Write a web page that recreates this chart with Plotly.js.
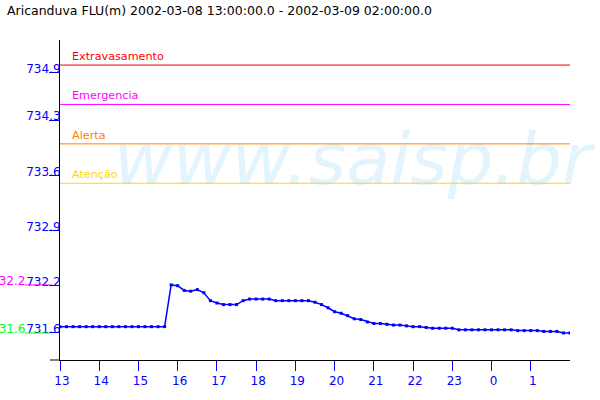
<!DOCTYPE html>
<html>
<head>
<meta charset="utf-8">
<script src="https://cdn.plot.ly/plotly-3.0.1.min.js"></script>
<style>html,body{margin:0;padding:0;background:#fff;}#chart{width:600px;height:400px;}</style>
</head>
<body>
<div id="chart"></div>
<script>
// ---- data ----
const titleText = 'Aricanduva FLU(m) 2002-03-08 13:00:00.0 - 2002-03-09 02:00:00.0';
const startTime = '2002-03-08 13:00';
const endTime = '2002-03-09 02:00';
// level readings every 10 minutes from 13:00 to 02:00
const levels = [
  731.68,731.68,731.68,731.68,731.68,731.68,731.68,731.68,731.68,731.68,
  731.68,731.68,731.68,731.68,731.68,731.68,731.68,732.21,732.20,732.14,
  732.13,732.15,732.11,732.01,731.98,731.96,731.96,731.96,732.01,732.03,
  732.03,732.03,732.03,732.01,732.01,732.01,732.01,732.01,732.01,731.99,
  731.96,731.92,731.87,731.85,731.82,731.78,731.77,731.74,731.72,731.72,
  731.71,731.70,731.70,731.69,731.68,731.68,731.67,731.66,731.66,731.66,
  731.66,731.64,731.64,731.64,731.64,731.64,731.64,731.64,731.64,731.64,
  731.63,731.63,731.63,731.63,731.62,731.62,731.62,731.60,731.60
];
const thresholdNames = ['Extravasamento','Emergencia','Alerta','Atenção'];
const thresholdValues = [735.0, 734.5, 734.0, 733.5];
const thresholdColors = ['#ff0000','#ff00ff','#ff8000','#ffd700'];
const yTickVals = [731.6, 732.2, 732.9, 733.6, 734.3, 734.9];
const yTickText = ['731.6','732.2','732.9','733.6','734.3','734.9'];
const hourLabels = ['13','14','15','16','17','18','19','20','21','22','23','0','1'];
const watermark = 'www.saisp.br';

// ---- build ----
function stamp(mins){
  const d = new Date(Date.UTC(2002,2,8,13,0) + mins*60000);
  return d.toISOString().slice(0,16).replace('T',' ');
}
const times = levels.map((_, i) => stamp(i*10));
const hourTicks = hourLabels.map((_, k) => stamp(k*60));

const traces = [];
thresholdValues.forEach((v, i) => {
  traces.push({
    x: [startTime, endTime], y: [v, v], mode: 'lines', type: 'scatter',
    line: {color: thresholdColors[i], width: 1}, hoverinfo: 'skip', showlegend: false
  });
});
traces.push({
  x: times, y: levels, type: 'scatter', mode: 'lines+markers',
  line: {color: '#0000ff', width: 1.5},
  marker: {color: '#0000ff', size: 3, symbol: 'square'},
  showlegend: false
});

const maxV = Math.max(...levels);
const minV = Math.min(...levels);
const fontFam = 'DejaVu Sans';

const annotations = thresholdValues.map((v, i) => ({
  xref: 'paper', yref: 'y', x: 0.0196, y: v, xanchor: 'left', yanchor: 'bottom',
  yshift: 0, text: thresholdNames[i], showarrow: false,
  font: {family: fontFam, size: 11.2, color: thresholdColors[i]}
}));
annotations.push({
  xref: 'paper', yref: 'y', x: -0.0647, y: maxV, xanchor: 'right', yanchor: 'middle',
  yshift: 4, text: maxV.toFixed(1), showarrow: false,
  font: {family: fontFam, size: 12, color: '#ff00ff'}
});
annotations.push({
  xref: 'paper', yref: 'y', x: -0.0647, y: minV, xanchor: 'right', yanchor: 'middle',
  yshift: 4, text: minV.toFixed(1), showarrow: false,
  font: {family: fontFam, size: 12, color: '#00ff00'}
});

const shapes = [
  {type: 'rect', xref: 'paper', yref: 'paper', x0: 0.1078, x1: 1.04, y0: 0.575, y1: 0.715,
   line: {width: 0}, fillcolor: 'rgba(0,0,0,0)', layer: 'below',
   label: {text: watermark, textposition: 'middle center',
           font: {family: fontFam, size: 72, color: '#e3f4ff', style: 'italic'}}},
  {type: 'line', xref: 'paper', yref: 'y', x0: -0.0686, x1: -0.0196, y0: maxV, y1: maxV,
   line: {color: '#ff00ff', width: 1}},
  {type: 'line', xref: 'paper', yref: 'y', x0: -0.0686, x1: -0.0196, y0: minV, y1: minV,
   line: {color: '#00ff00', width: 1}},
  {type: 'line', xref: 'paper', yref: 'paper', x0: -0.0196, x1: 0, y0: 0, y1: 0,
   line: {color: '#000000', width: 1}}
];

const layout = {
  width: 600, height: 400,
  margin: {l: 60, r: 30, t: 40, b: 40},
  paper_bgcolor: '#ffffff', plot_bgcolor: '#ffffff',
  showlegend: false,
  title: {text: titleText, x: 7/600, xref: 'container', xanchor: 'left',
          y: 1 - 11/400, yref: 'container', yanchor: 'middle',
          font: {family: fontFam, size: 12.5, color: '#000000'}},
  xaxis: {
    type: 'date', range: [startTime, endTime],
    tickmode: 'array', tickvals: hourTicks, ticktext: hourLabels,
    ticks: 'outside', ticklen: 10, tickcolor: '#0000ff', tickwidth: 1,
    tickfont: {family: fontFam, size: 12, color: '#0000ff'},
    ticklabelshift: 2,
    showline: true, linecolor: '#000000', linewidth: 1,
    showgrid: false, zeroline: false, fixedrange: true
  },
  yaxis: {
    range: [731.257, 735.318],
    tickmode: 'array', tickvals: yTickVals, ticktext: yTickText,
    ticks: 'outside', ticklen: 10, tickcolor: '#0000ff', tickwidth: 1,
    tickfont: {family: fontFam, size: 12, color: '#0000ff'},
    ticklabelstandoff: -14, ticklabelshift: -4,
    showline: true, linecolor: '#000000', linewidth: 1,
    showgrid: false, zeroline: false, fixedrange: true
  },
  annotations: annotations,
  shapes: shapes
};

Plotly.newPlot('chart', traces, layout, {displayModeBar: false, staticPlot: true});
</script>
</body>
</html>
